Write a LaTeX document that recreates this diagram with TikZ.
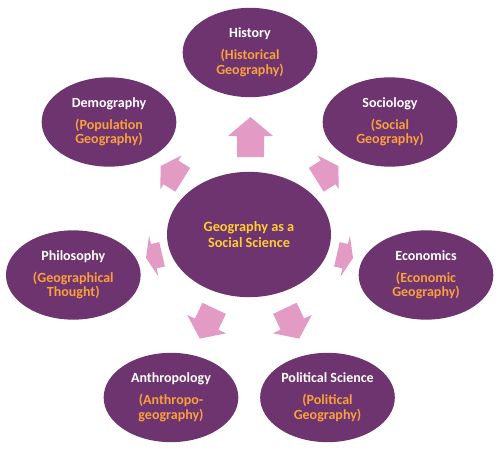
\documentclass[tikz,border=0pt]{standalone}
\usepackage{fontspec}
\setmainfont{Carlito}
\usetikzlibrary{shapes.geometric}
\definecolor{purp}{RGB}{110,52,112}
\definecolor{pinkarr}{RGB}{227,155,198}
\definecolor{subor}{RGB}{250,160,60}
\definecolor{cyel}{RGB}{255,204,51}
\tikzset{
  bub/.style={ellipse, fill=purp, inner sep=0pt, minimum width=101pt, minimum height=67pt,
    align=center, font=\bfseries\fontsize{10.5}{10.9}\selectfont, text=white},
  hub/.style={bub, minimum width=123pt, minimum height=94pt, text=cyel,
    font=\bfseries\fontsize{10.7}{11.6}\selectfont},
  arrowfill/.style={fill=pinkarr},
}
% tipx tipy angle length headlength headwidth shaftwidth
\newcommand\blockarr[7]{%
  \fill[arrowfill, shift={(#1,#2)}, rotate=#3]
    (0,0) -- (-#5,#6/2) -- (-#5,#7/2) -- (-#4,#7/2) -- (-#4,-#7/2) -- (-#5,-#7/2) -- (-#5,-#6/2) -- cycle;}
\newcommand\sub[1]{\textcolor{subor}{#1}}
\begin{document}
\begin{tikzpicture}[x=0.75pt,y=-0.75pt]
\fill[white] (0,0) rectangle (500,453);
\useasboundingbox (0,0) rectangle (500,453);
% arrows
\blockarr{250.5}{117}{90}{40}{19}{45}{27}
\blockarr{160.7}{166}{148}{26}{12}{40}{28}
\blockarr{338.3}{166}{32}{26}{12}{40}{28}
\blockarr{146}{258}{192.9}{16.5}{8}{42}{25}
\blockarr{353}{258}{-12.9}{16.5}{8}{42}{25}
\blockarr{199.8}{338.6}{244.7}{33.5}{16}{43}{26}
\blockarr{299.2}{338.6}{295.3}{33.5}{16}{43}{26}
% nodes
\node[hub] (geo) at (249,234.5) {Geography as a\\Social Science};
\node[bub] (his) at (250,52.5) {History\\[5.6pt]\sub{(Historical}\\\sub{Geography)}};
\node[bub] (dem) at (109,122) {Demography\\[5.6pt]\sub{(Population}\\\sub{Geography)}};
\node[bub] (soc) at (390,122) {Sociology\\[5.6pt]\sub{(Social}\\\sub{Geography)}};
\node[bub] (phi) at (73.3,275) {Philosophy\\[5.6pt]\sub{(Geographical}\\\sub{Thought)}};
\node[bub] (eco) at (426,275) {Economics\\[5.6pt]\sub{(Economic}\\\sub{Geography)}};
\node[bub] (ant) at (171,397.5) {Anthropology\\[5.6pt]\sub{(Anthropo-}\\\sub{geography)}};
\node[bub] (pol) at (327.5,397.5) {Political Science\\[5.6pt]\sub{(Political}\\\sub{Geography)}};
\end{tikzpicture}
\end{document}
